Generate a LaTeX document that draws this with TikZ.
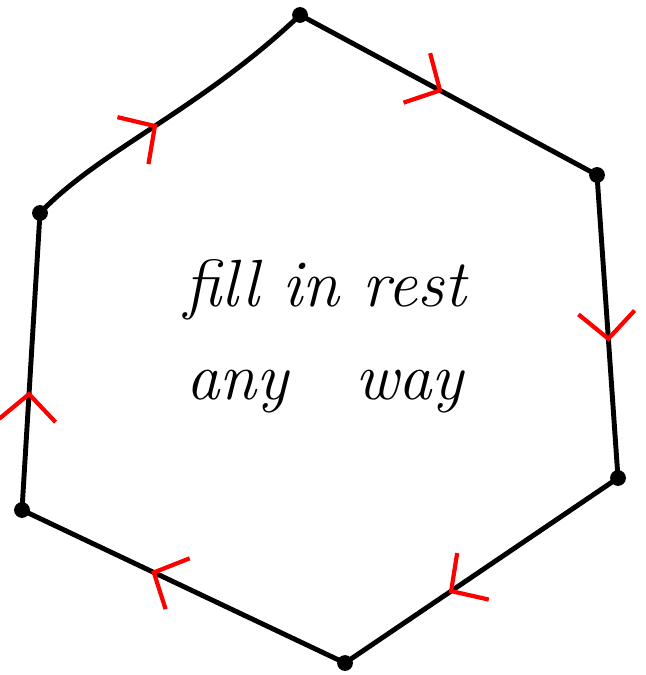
\documentclass[tikz,border=0pt]{standalone}
\usetikzlibrary{decorations.markings,arrows.meta}
\begin{document}
\begin{tikzpicture}[x=0.02cm,y=-0.02cm,
  edge/.style={line width=2.8pt, line cap=round, line join=round},
  dot/.style={circle, fill=black, inner sep=0pt, minimum size=9pt},
  txt/.style={font=\fontsize{38}{44}\selectfont\itshape},
  mk/.style={postaction={decorate, decoration={markings,
     mark=at position #1 with {\arrow[red, line width=2.4pt, line cap=round]{Straight Barb[length=15pt,width=32pt]}}}}}]
\useasboundingbox (0,0) rectangle (645,675);
\node[dot] (T) at (300,15) {};
\node[dot] (UR) at (597,175) {};
\node[dot] (LR) at (618,478) {};
\node[dot] (B) at (345,663) {};
\node[dot] (LL) at (22,510) {};
\node[dot] (UL) at (40,213) {};
\draw[edge, mk=0.48] (T.center) -- (UR.center);
\draw[edge, mk=0.55] (UR.center) -- (LR.center);
\draw[edge, mk=0.62] (LR.center) -- (B.center);
\draw[edge, mk=0.6] (B.center) -- (LL.center);
\draw[edge, mk=0.4] (LL.center) -- (UL.center);
\draw[edge, mk=0.45] (UL.center) .. controls (100,150) and (200,110) .. (T.center);
\node[txt] (t1) at (325,290) {fill in rest};
\node[txt] (t2) at (325,392) {any\quad way};
\end{tikzpicture}
\end{document}
